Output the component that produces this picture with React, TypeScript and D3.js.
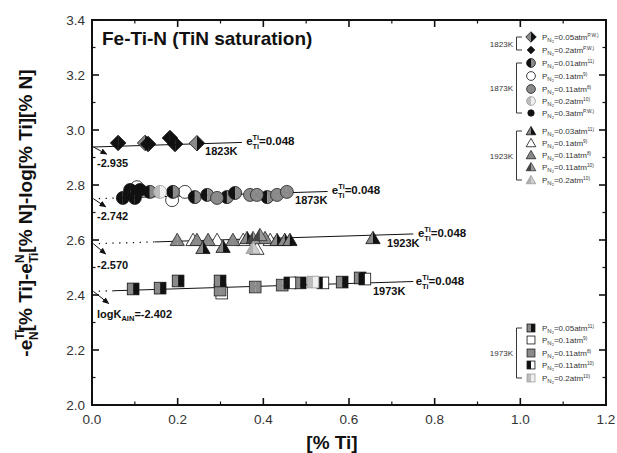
import React from "react";
import * as d3 from "d3";

const W = 617;
const H = 453;

// ---- axes ----
const xTicks = [0, 0.2, 0.4, 0.6, 0.8, 1.0, 1.2];
const yTicks = [2.0, 2.2, 2.4, 2.6, 2.8, 3.0, 3.2, 3.4];

// ---- regression lines ----
const temps = ["1823K", "1873K", "1923K", "1973K"];
const intercepts = [2.938, 2.75, 2.586, 2.413];
const slopeTiTi = 0.048;
const solidStart = [0, 0.06, 0.147, 0.05];
const lineEnd = [0.35, 0.55, 0.75, 0.75];
const interceptLabels = ["-2.935", "-2.742", "-2.570", "-2.402"];
const tempLabelX = [0.264, 0.474, 0.689, 0.656];
const eLabelX = [0.36, 0.56, 0.761, 0.756];

// ---- 1823K (diamonds) ----
const d1823_005 = [[0.124, 2.953], [0.245, 2.952]];
const d1823_02 = [[0.061, 2.953], [0.131, 2.949], [0.182, 2.971], [0.194, 2.949]];

// ---- 1873K (circles) ----
const c1873_001 = [[0.135, 2.775], [0.189, 2.775], [0.24, 2.756], [0.269, 2.764], [0.315, 2.756], [0.334, 2.771], [0.409, 2.756]];
const c1873_01 = [[0.105, 2.792], [0.187, 2.745], [0.217, 2.775]];
const c1873_011 = [[0.292, 2.753], [0.369, 2.764], [0.385, 2.764], [0.432, 2.764], [0.455, 2.775]];
const c1873_02 = [[0.159, 2.775]];
const c1873_03 = [[0.072, 2.753], [0.089, 2.782], [0.1, 2.753], [0.112, 2.782]];

// ---- 1923K (triangles) ----
const t1923_003 = [[0.259, 2.571], [0.306, 2.575], [0.362, 2.607], [0.432, 2.6], [0.45, 2.6], [0.462, 2.6], [0.656, 2.607]];
const t1923_01 = [[0.236, 2.6], [0.292, 2.6], [0.353, 2.6], [0.416, 2.6], [0.385, 2.568]];
const t1923_011a = [[0.199, 2.6], [0.245, 2.6], [0.271, 2.6], [0.329, 2.6], [0.404, 2.607]];
const t1923_011b = [[0.376, 2.607], [0.392, 2.618]];
const t1923_02 = [[0.376, 2.571]];

// ---- 1973K (squares) ----
const s1973_005 = [[0.096, 2.422], [0.159, 2.425], [0.201, 2.451], [0.299, 2.451], [0.486, 2.444], [0.584, 2.447], [0.626, 2.462]];
const s1973_01 = [[0.303, 2.407]];
const s1973_011a = [[0.299, 2.418], [0.381, 2.429], [0.444, 2.436]];
const s1973_011b = [[0.462, 2.444], [0.539, 2.444], [0.637, 2.458]];
const s1973_02 = [[0.516, 2.447]];

// fill styles
const F = {
  grayBlack: { L: "#8a8a8a", R: "#111", s: "#111" },
  black: { L: "#111", R: "#111", s: "#111" },
  blackGray: { L: "#111", R: "#8a8a8a", s: "#111" },
  white: { L: "#fff", R: "#fff", s: "#111" },
  gray: { L: "#8a8a8a", R: "#8a8a8a", s: "#222" },
  light: { L: "#bdbdbd", R: "#f0f0f0", s: "#9a9a9a" },
  lightTri: { L: "#b0b0b0", R: "#cfcfcf", s: "#9a9a9a" },
  darkGray: { L: "#444", R: "#9a9a9a", s: "#333" },
  blackWhite: { L: "#111", R: "#fff", s: "#111" },
};

type Series = { shape: string; f: any; pts: number[][]; p: string; ref: string; small?: boolean };

const groups: { label: string; rows: number[]; series: Series[] }[] = [
  {
    label: "1823K",
    rows: [37, 50],
    series: [
      { shape: "diamond", f: F.grayBlack, pts: d1823_005, p: "0.05atm", ref: "P.W.)" },
      { shape: "diamond", f: F.black, pts: d1823_02, p: "0.2atm", ref: "P.W.)", small: true },
    ],
  },
  {
    label: "1873K",
    rows: [63, 76, 89, 101, 113],
    series: [
      { shape: "circle", f: F.blackGray, pts: c1873_001, p: "0.01atm", ref: "11)" },
      { shape: "circle", f: F.white, pts: c1873_01, p: "0.1atm", ref: "9)" },
      { shape: "circle", f: F.gray, pts: c1873_011, p: "0.11atm", ref: "8)" },
      { shape: "circle", f: F.light, pts: c1873_02, p: "0.2atm", ref: "10)" },
      { shape: "circle", f: F.black, pts: c1873_03, p: "0.3atm", ref: "P.W.)", small: true },
    ],
  },
  {
    label: "1923K",
    rows: [131, 143, 155, 167, 180],
    series: [
      { shape: "triangle", f: F.grayBlack, pts: t1923_003, p: "0.03atm", ref: "11)" },
      { shape: "triangle", f: F.white, pts: t1923_01, p: "0.1atm", ref: "9)" },
      { shape: "triangle", f: F.gray, pts: t1923_011a, p: "0.11atm", ref: "8)" },
      { shape: "triangle", f: F.darkGray, pts: t1923_011b, p: "0.11atm", ref: "10)" },
      { shape: "triangle", f: F.lightTri, pts: t1923_02, p: "0.2atm", ref: "10)" },
    ],
  },
  {
    label: "1973K",
    rows: [328, 340, 353, 365, 378],
    series: [
      { shape: "square", f: F.grayBlack, pts: s1973_005, p: "0.05atm", ref: "11)" },
      { shape: "square", f: F.white, pts: s1973_01, p: "0.1atm", ref: "9)" },
      { shape: "square", f: F.gray, pts: s1973_011a, p: "0.11atm", ref: "8)" },
      { shape: "square", f: F.blackWhite, pts: s1973_011b, p: "0.11atm", ref: "10)" },
      { shape: "square", f: F.light, pts: s1973_02, p: "0.2atm", ref: "10)" },
    ],
  },
];

const drawOrder: [number, number][] = [
  [0, 0], [0, 1],
  [1, 1], [1, 4], [1, 0], [1, 3], [1, 2],
  [2, 1], [2, 2], [2, 0], [2, 3], [2, 4],
  [3, 1], [3, 2], [3, 0], [3, 3], [3, 4],
];

function Sym({ shape, cx, cy, size, f }: any) {
  const sw = 0.8;
  if (shape === "circle") {
    const r = size;
    return (
      <g>
        <path d={`M${cx},${cy - r}A${r},${r} 0 0 0 ${cx},${cy + r}Z`} fill={f.L} />
        <path d={`M${cx},${cy - r}A${r},${r} 0 0 1 ${cx},${cy + r}Z`} fill={f.R} />
        <circle cx={cx} cy={cy} r={r} fill="none" stroke={f.s} strokeWidth={sw} />
      </g>
    );
  }
  if (shape === "diamond") {
    const h = size * 1.2;
    return (
      <g>
        <path d={`M${cx},${cy - h}L${cx - h},${cy}L${cx},${cy + h}Z`} fill={f.L} />
        <path d={`M${cx},${cy - h}L${cx + h},${cy}L${cx},${cy + h}Z`} fill={f.R} />
        <path d={`M${cx},${cy - h}L${cx - h},${cy}L${cx},${cy + h}L${cx + h},${cy}Z`} fill="none" stroke={f.s} strokeWidth={sw} />
      </g>
    );
  }
  if (shape === "triangle") {
    const w = size * 1.1;
    const ht = size * 1.9;
    const top = cy - ht * 0.55;
    const base = cy + ht * 0.45;
    return (
      <g>
        <path d={`M${cx},${top}L${cx - w},${base}L${cx},${base}Z`} fill={f.L} />
        <path d={`M${cx},${top}L${cx + w},${base}L${cx},${base}Z`} fill={f.R} />
        <path d={`M${cx},${top}L${cx - w},${base}L${cx + w},${base}Z`} fill="none" stroke={f.s} strokeWidth={sw} />
      </g>
    );
  }
  const a = size * 0.9;
  return (
    <g>
      <rect x={cx - a} y={cy - a} width={a} height={2 * a} fill={f.L} />
      <rect x={cx} y={cy - a} width={a} height={2 * a} fill={f.R} />
      <rect x={cx - a} y={cy - a} width={2 * a} height={2 * a} fill="none" stroke={f.s} strokeWidth={sw} />
    </g>
  );
}

export default function App() {
  const x = d3.scaleLinear().domain([0, 1.2]).range([92, 606]);
  const y = d3.scaleLinear().domain([2.0, 3.4]).range([405, 20]);
  const xMinor = d3.range(0.1, 1.2, 0.2);
  const yMinor = d3.range(2.1, 3.4, 0.2);
  const font = "Liberation Sans, Arial, Helvetica, sans-serif";
  const lineY = (i: number, v: number) => y(intercepts[i] + slopeTiTi * v);
  const arrowOff = [[13, 7], [12, 8], [12, 10], [15, 12]];
  const labOff = [20, 21, 25, 27];

  return (
    <svg width={W} height={H} style={{ position: "absolute", left: 0, top: 0, background: "#fff" }} fontFamily={font}>
      <defs>
        <marker id="ah" markerUnits="userSpaceOnUse" markerWidth="7" markerHeight="6" refX="6" refY="3" orient="auto">
          <path d="M0,0L7,3L0,6Z" fill="#111" />
        </marker>
      </defs>
      <rect width={W} height={H} fill="#fff" />

      {/* regression lines */}
      {temps.map((t, i) => (
        <g key={t}>
          {solidStart[i] > 0 && (
            <line x1={x(0)} y1={lineY(i, 0)} x2={x(solidStart[i])} y2={lineY(i, solidStart[i])} stroke="#111" strokeWidth={1.3} strokeDasharray="1.3,5.5" />
          )}
          <line x1={x(solidStart[i])} y1={lineY(i, solidStart[i])} x2={x(lineEnd[i])} y2={lineY(i, lineEnd[i])} stroke="#111" strokeWidth={1} />
          <line x1={x(0) + 1.5} y1={lineY(i, 0)} x2={x(0) + 1.5 + arrowOff[i][0]} y2={lineY(i, 0) + arrowOff[i][1]} stroke="#111" strokeWidth={1} markerEnd="url(#ah)" />
          <text x={x(tempLabelX[i])} y={lineY(i, lineEnd[i]) + 13} fontSize={11} fontWeight="bold" fill="#111">{t}</text>
          <text x={x(eLabelX[i])} y={lineY(i, lineEnd[i]) + 3} fontSize={11.5} fontWeight="bold" fill="#111">
            e<tspan dy={-5} fontSize={7.5}>Ti</tspan>
            <tspan dx={-6.7} dy={9} fontSize={7.5}>Ti</tspan>
            <tspan dy={-4}>=0.048</tspan>
          </text>
          <text x={x(0) + 5} y={lineY(i, 0) + labOff[i]} fontSize={11} fontWeight="bold" fill="#111">
            {i === 3 ? (
              <>
                logK<tspan dy={3} fontSize={7.5}>AIN</tspan>
                <tspan dy={-3}>={interceptLabels[i]}</tspan>
              </>
            ) : (
              interceptLabels[i]
            )}
          </text>
        </g>
      ))}

      {/* data points */}
      {drawOrder.map(([gi, si]) => {
        const s = groups[gi].series[si];
        return (
          <g key={`${gi}-${si}`}>
            {s.pts.map((p, k) => (
              <Sym key={k} shape={s.shape} cx={x(p[0])} cy={y(p[1])} size={6.5} f={s.f} />
            ))}
          </g>
        );
      })}

      {/* frame and ticks */}
      <rect x={x(0)} y={y(3.4)} width={x(1.2) - x(0)} height={y(2.0) - y(3.4)} fill="none" stroke="#111" strokeWidth={2} />
      {xTicks.map((t) => (
        <g key={"xt" + t}>
          <line x1={x(t)} x2={x(t)} y1={y(2.0)} y2={y(2.0) - 7} stroke="#111" strokeWidth={1.6} />
          <line x1={x(t)} x2={x(t)} y1={y(3.4)} y2={y(3.4) + 7} stroke="#111" strokeWidth={1.6} />
          <text x={x(t)} y={y(2.0) + 19} textAnchor="middle" fontSize={13.5} fill="#333">{t.toFixed(1)}</text>
        </g>
      ))}
      {xMinor.map((t) => (
        <g key={"xm" + t}>
          <line x1={x(t)} x2={x(t)} y1={y(2.0)} y2={y(2.0) - 3.5} stroke="#111" strokeWidth={1.2} />
          <line x1={x(t)} x2={x(t)} y1={y(3.4)} y2={y(3.4) + 3.5} stroke="#111" strokeWidth={1.2} />
        </g>
      ))}
      {yTicks.map((t) => (
        <g key={"yt" + t}>
          <line x1={x(0)} x2={x(0) + 7} y1={y(t)} y2={y(t)} stroke="#111" strokeWidth={1.6} />
          <line x1={x(1.2)} x2={x(1.2) - 7} y1={y(t)} y2={y(t)} stroke="#111" strokeWidth={1.6} />
          <text x={x(0) - 7} y={y(t) + 5} textAnchor="end" fontSize={13.5} fill="#333">{t.toFixed(1)}</text>
        </g>
      ))}
      {yMinor.map((t) => (
        <g key={"ym" + t}>
          <line x1={x(0)} x2={x(0) + 3.5} y1={y(t)} y2={y(t)} stroke="#111" strokeWidth={1.2} />
          <line x1={x(1.2)} x2={x(1.2) - 3.5} y1={y(t)} y2={y(t)} stroke="#111" strokeWidth={1.2} />
        </g>
      ))}

      {/* title */}
      <text x={102} y={45} fontSize={19} fontWeight="bold" fill="#111">Fe-Ti-N (TiN saturation)</text>

      {/* legend */}
      {groups.map((g) => {
        const top = g.rows[0];
        const bot = g.rows[g.rows.length - 1];
        return (
          <g key={g.label}>
            <path d={`M522,${top}H516.5V${bot}H522`} fill="none" stroke="#222" strokeWidth={0.9} />
            <text x={513} y={(top + bot) / 2 + 3} textAnchor="end" fontSize={8} fill="#333">{g.label}</text>
            {g.series.map((s, k) => (
              <g key={k}>
                <Sym shape={s.shape} cx={531} cy={g.rows[k]} size={s.small ? 3.2 : 4.4} f={s.f} />
                <text x={542} y={g.rows[k] + 3} fontSize={8} fill="#333">
                  P<tspan dy={1.5} fontSize={6}>N</tspan>
                  <tspan dy={1} fontSize={4}>2</tspan>
                  <tspan dy={-2.5} fontSize={8}>={s.p}</tspan>
                  <tspan dy={-3.5} fontSize={4.8}>{s.ref}</tspan>
                </text>
              </g>
            ))}
          </g>
        );
      })}

      {/* axis titles */}
      <text x={332} y={449} textAnchor="middle" fontSize={19} fontWeight="bold" fill="#111">[% Ti]</text>
      <text transform="translate(32,213) rotate(-90)" textAnchor="middle" fontSize={19} fontWeight="bold" fill="#111">
        -e<tspan dy={-8} fontSize={12}>Ti</tspan>
        <tspan dx={-10.7} dy={14} fontSize={12}>N</tspan>
        <tspan dy={-6}>[% Ti]-e</tspan>
        <tspan dy={-8} fontSize={12}>N</tspan>
        <tspan dx={-8.7} dy={14} fontSize={12}>Ti</tspan>
        <tspan dy={-6}>[% N]-log[% Ti][% N]</tspan>
      </text>
    </svg>
  );
}
